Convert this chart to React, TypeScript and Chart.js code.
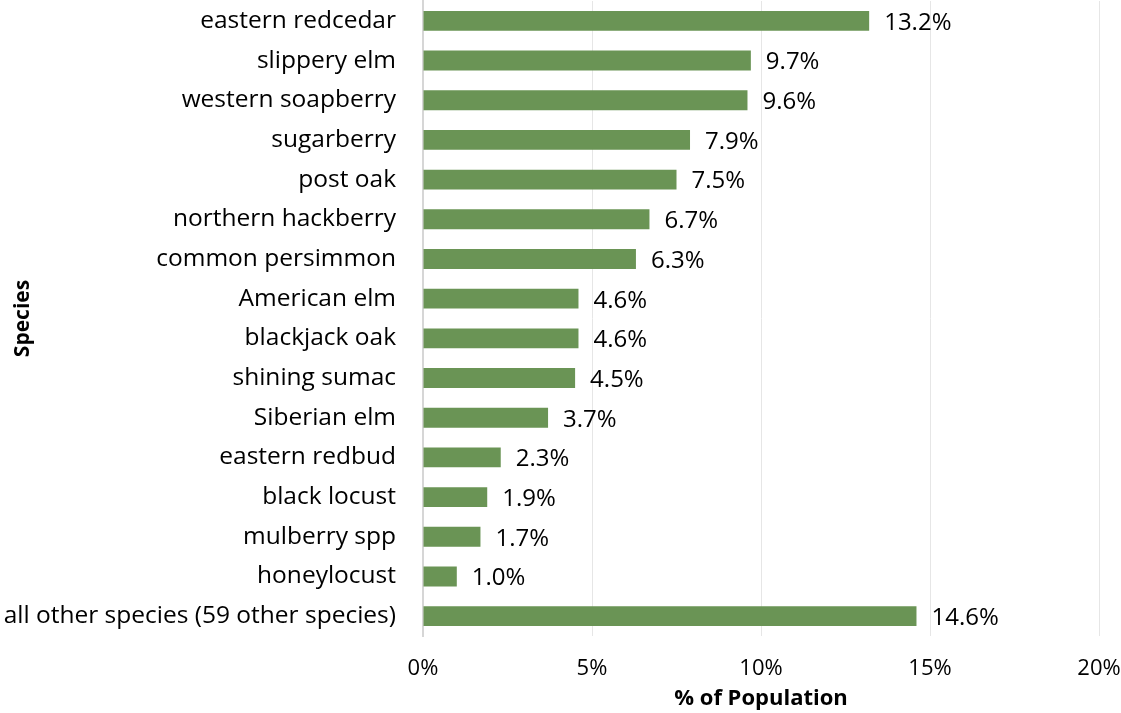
import React, { useEffect, useRef } from "react";
import { Chart, registerables } from "chart.js";

Chart.register(...registerables);

const categories = [
  "eastern redcedar",
  "slippery elm",
  "western soapberry",
  "sugarberry",
  "post oak",
  "northern hackberry",
  "common persimmon",
  "American elm",
  "blackjack oak",
  "shining sumac",
  "Siberian elm",
  "eastern redbud",
  "black locust",
  "mulberry spp",
  "honeylocust",
  "all other species (59 other species)",
];

const values = [13.2, 9.7, 9.6, 7.9, 7.5, 6.7, 6.3, 4.6, 4.6, 4.5, 3.7, 2.3, 1.9, 1.7, 1.0, 14.6];

const xTicks = [0, 5, 10, 15, 20];

const FONT = "'Open Sans', sans-serif";
const BAR_COLOR = "#6A9455";

const labelPlugin = {
  id: "barLabels",
  afterDatasetsDraw(chart: any) {
    const ctx = chart.ctx;
    const meta = chart.getDatasetMeta(0);
    ctx.save();
    ctx.font = `24px ${FONT}`;
    ctx.fillStyle = "#000000";
    ctx.textAlign = "left";
    ctx.textBaseline = "middle";
    meta.data.forEach((bar: any, i: number) => {
      ctx.fillText(values[i].toFixed(1) + "%", bar.x + 15, bar.y + 2);
    });
    ctx.restore();
  },
};

export default function App() {
  const ref = useRef<HTMLCanvasElement | null>(null);

  useEffect(() => {
    document.body.style.margin = "0";
    const chart = new Chart(ref.current!, {
      type: "bar",
      data: {
        labels: categories,
        datasets: [
          {
            data: values,
            backgroundColor: BAR_COLOR,
            borderWidth: 0,
            categoryPercentage: 1,
            barPercentage: 0.5,
          },
        ],
      },
      options: {
        indexAxis: "y",
        animation: false,
        responsive: false,
        maintainAspectRatio: false,
        layout: { padding: { top: 1, right: 22, left: 0, bottom: 0 } },
        plugins: {
          legend: { display: false },
          tooltip: { enabled: false },
        },
        scales: {
          x: {
            min: 0,
            max: 20,
            afterBuildTicks(scale: any) {
              scale.ticks = xTicks.map((v) => ({ value: v }));
            },
            afterFit(scale: any) {
              scale.height = 77;
              scale.paddingLeft = 0;
              scale.paddingRight = 0;
              scale.paddingTop = 0;
              scale.paddingBottom = 0;
            },
            grid: {
              color: "#e6e6e6",
              lineWidth: 1,
              drawTicks: false,
            },
            border: { display: false },
            ticks: {
              padding: 20,
              color: "#000000",
              font: { family: FONT, size: 22 },
              callback: (v: any) => `${v}%`,
            },
            title: {
              display: true,
              text: "% of Population",
              color: "#000000",
              font: { family: FONT, size: 22, weight: "bold" },
              padding: { top: 0, bottom: 1 },
            },
          },
          y: {
            afterFit(scale: any) {
              scale.width = 423;
              scale.paddingLeft = 0;
              scale.paddingRight = 0;
              scale.paddingTop = 0;
              scale.paddingBottom = 0;
            },
            grid: { display: false, drawTicks: false },
            border: { display: true, color: "#d6d6d6", width: 2 },
            ticks: {
              padding: 27,
              color: "#000000",
              font: { family: FONT, size: 24.5 },
              autoSkip: false,
            },
            title: {
              display: true,
              text: "Species",
              color: "#000000",
              font: { family: FONT, size: 21, weight: "bold" },
              padding: { top: 10, bottom: 0 },
            },
          },
        },
      },
      plugins: [labelPlugin],
    });
    return () => chart.destroy();
  }, []);

  return (
    <div style={{ position: "absolute", left: 0, top: 0, width: 1121, height: 713, background: "#fff" }}>
      <canvas ref={ref} width={1121} height={713} style={{ display: "block" }} />
    </div>
  );
}
